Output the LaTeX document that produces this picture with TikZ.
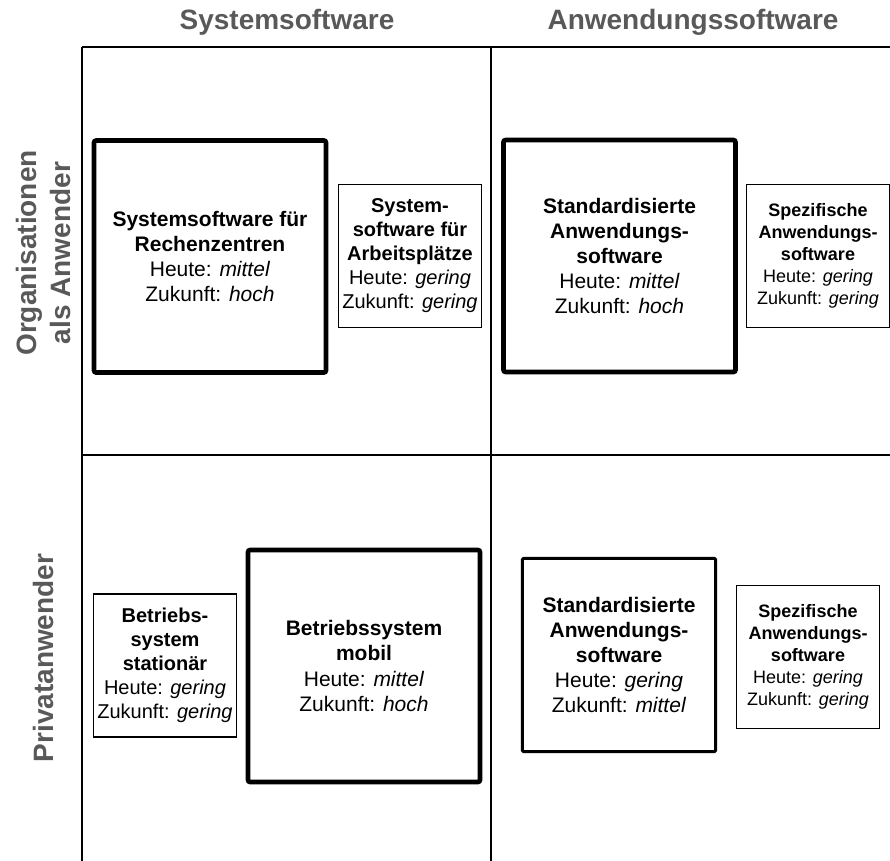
\documentclass[tikz,border=0pt]{standalone}
\usepackage{fontspec}
\setmainfont{Liberation Sans}
\usepackage{tikz}
\usepackage{xcolor}
\usetikzlibrary{positioning}
\definecolor{cHead}{RGB}{89,89,89}
\tikzset{
	bigbox/.style  ={rectangle, draw=black, line width=3.4pt, rounded corners=1.5pt, minimum width=174pt, minimum height=174pt, align=center, inner sep=2pt, font=\fontsize{15.75}{18.9}\selectfont},
	midbox/.style  ={rectangle, draw=black, line width=2.2pt, rounded corners=1pt, minimum width=145pt, minimum height=145pt, align=center, inner sep=2pt, font=\fontsize{15.75}{18.9}\selectfont},
	smallbox/.style={rectangle, draw=black, line width=1.1pt, minimum width=107pt, minimum height=107pt, align=center, inner sep=1pt, font=\fontsize{15}{18}\selectfont},
	tinybox/.style ={rectangle, draw=black, line width=1.1pt, minimum width=107pt, minimum height=107pt, align=center, inner sep=1pt, font=\fontsize{13.5}{16.5}\selectfont},
	axislbl/.style ={text=cHead, align=center, font=\fontsize{21}{25.5}\selectfont\bfseries},
	gridline/.style={draw=black, line width=1.1pt},
}
\begin{document}
\begin{tikzpicture}[x=0.75pt, y=-0.75pt]
	\useasboundingbox (0,0) rectangle (890,861);
	% grid
	\draw[gridline, line width=1.5pt] (82,47) -- (890,47);
	\draw[gridline, line width=1.9pt] (82,455) -- (890,455);
	\draw[gridline] (82,47) -- (82,861);
	\draw[gridline] (491,47) -- (491,861);
	% axis labels
	\node[axislbl] (colsys) at (287,22) {Systemsoftware};
	\node[axislbl] (colanw) at (693,22) {Anwendungssoftware};
	\node[axislbl, rotate=90] (roworg) at (43,253) {Organisationen\\als Anwender};
	\node[axislbl, rotate=90] (rowpriv) at (43,658) {Privatanwender};
	% Organisationen
	\node[bigbox] (sysrz) at (210,256.5) {\textbf{Systemsoftware für}\\\textbf{Rechenzentren}\\Heute: \textit{mittel}\\Zukunft: \textit{hoch}};
	\node[smallbox] (sysap) at (410,256) {\textbf{System-}\\\textbf{software für}\\\textbf{Arbeitsplätze}\\Heute: \textit{gering}\\Zukunft: \textit{gering}};
	\node[bigbox] (stdorg) at (619.5,256) {\textbf{Standardisierte}\\\textbf{Anwendungs-}\\\textbf{software}\\Heute: \textit{mittel}\\Zukunft: \textit{hoch}};
	\node[tinybox] (spezorg) at (818,256) {\textbf{Spezifische}\\\textbf{Anwendungs-}\\\textbf{software}\\Heute: \textit{gering}\\Zukunft: \textit{gering}};
	% Privatanwender
	\node[smallbox] (bsstat) at (165,665.5) {\textbf{Betriebs-}\\\textbf{system}\\\textbf{stationär}\\Heute: \textit{gering}\\Zukunft: \textit{gering}};
	\node[bigbox] (bsmob) at (364,666) {\textbf{Betriebssystem}\\\textbf{mobil}\\Heute: \textit{mittel}\\Zukunft: \textit{hoch}};
	\node[midbox] (stdpriv) at (619,655) {\textbf{Standardisierte}\\\textbf{Anwendungs-}\\\textbf{software}\\Heute: \textit{gering}\\Zukunft: \textit{mittel}};
	\node[tinybox] (spezpriv) at (808,657) {\textbf{Spezifische}\\\textbf{Anwendungs-}\\\textbf{software}\\Heute: \textit{gering}\\Zukunft: \textit{gering}};
\end{tikzpicture}
\end{document}
